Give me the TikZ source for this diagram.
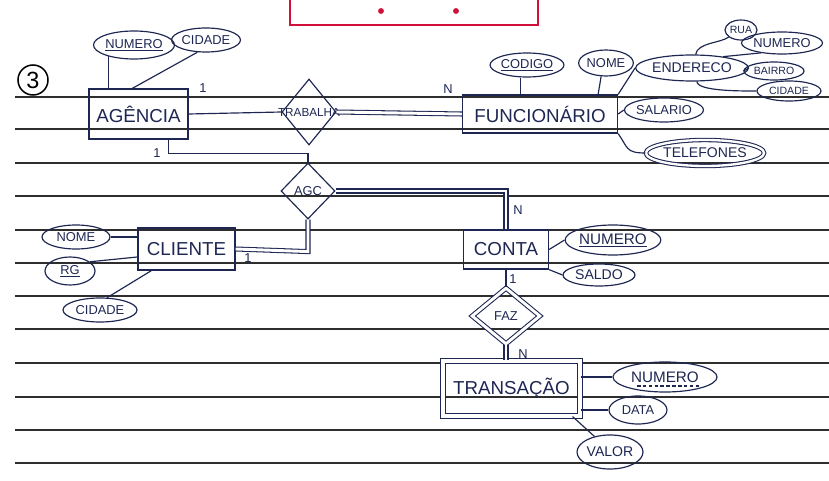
\documentclass[tikz,border=0pt]{standalone}
\usepackage{fontspec}
\setmainfont{Liberation Sans}
\usetikzlibrary{shapes.geometric,calc}
\definecolor{ink}{HTML}{1E2652}
\definecolor{ruleline}{HTML}{2E2E2E}
\definecolor{redbox}{HTML}{D0103A}
\begin{document}
\begin{tikzpicture}[x=0.03cm,y=-0.03cm,
  ent/.style 2 args={draw=ink, rectangle, line width=1.1pt, inner sep=0pt,
    minimum width=#1*0.03cm, minimum height=#2*0.03cm, text=ink,
    font=\fontsize{16}{16}\selectfont},
  att/.style 2 args={draw=ink, ellipse, line width=1pt, inner sep=0pt,
    minimum width=#1*0.03cm, minimum height=#2*0.03cm, text=ink,
    font=\fontsize{11}{11}\selectfont},
  rel/.style 2 args={draw=ink, diamond, line width=1pt, inner sep=0pt,
    minimum width=#1*0.03cm, minimum height=#2*0.03cm, text=ink,
    font=\fontsize{11}{11}\selectfont},
  conn/.style={draw=ink, line width=1pt},
  dbl/.style={draw=ink, line width=0.9pt, double=white, double distance=2.5pt},
  card/.style={text=ink, font=\fontsize{11}{11}\selectfont, inner sep=0pt},
  smallatt/.style={font=\fontsize{9}{9}\selectfont}
]
\useasboundingbox (0,0) rectangle (829,481);

% notebook ruling
\foreach \yy in {97,129,163,196,230,263,296,329,363,397,430,463}
  \draw[ruleline, line width=0.9pt] (15,\yy) -- (829,\yy);

% red box at top
\draw[redbox, line width=1.2pt] (290,-5) -- (290,25) -- (538,25) -- (538,-5);
\fill[redbox] (381,11) circle (2.5pt);
\fill[redbox] (456,11) circle (2.5pt);

% exercise number
\node[draw=black, circle, line width=1.3pt, minimum size=30*0.03cm, inner sep=0pt,
  font=\fontsize{20}{20}\selectfont] (three) at (33,80) {3};

% entities
\node[ent={99}{50}] (ag) at (138.5,114) {AGÊNCIA};
\node[ent={155}{38}] (func) at (540,114) {FUNCIONÁRIO};
\node[ent={97}{42}] (cli) at (186.5,249) {CLIENTE};
\node[ent={85}{39}] (conta) at (506,249.5) {CONTA};
\node[ent={137}{55}, line width=0.9pt, double=white, double distance=3.5pt] (trans) at (511.5,388.5) {TRANSAÇÃO};

% relationships
\node[rel={54}{66}, label={center:\textcolor{ink}{\fontsize{10}{10}\selectfont TRABALHA}}] (trab) at (309,112) {};
\node[rel={54}{56}] (agc) at (308,191) {AGC};
\node[rel={68}{56}, line width=0.9pt, double=white, double distance=2.5pt] (faz) at (506,316) {FAZ};

% attributes of AGENCIA
\node[att={76}{28}] (agnum) at (134,45) {\underline{NUMERO}};
\node[att={68}{24}] (agcid) at (206,40) {CIDADE};

% attributes of FUNCIONARIO
\node[att={44}{24}] (cod) at (527,65) {\underline{CODIGO}};
\node[att={54}{26}] (fnome) at (606,63) {NOME};
\node[att={86}{26}, font=\fontsize{12}{12}\selectfont] (end) at (692,68) {ENDERECO};
\node[att={32}{20}, smallatt] (rua) at (741,30) {RUA};
\node[att={78}{22}] (anum) at (782,43) {NUMERO};
\node[att={60}{18}, smallatt] (bai) at (774,71) {BAIRRO};
\node[att={64}{20}, smallatt] (acid) at (789,91) {CIDADE};
\node[att={68}{24}] (sal) at (664,110) {SALARIO};
\node[att={104}{26}, font=\fontsize{12}{12}\selectfont, line width=0.9pt, double=white, double distance=2pt] (tel) at (705,153) {TELEFONES};

% attributes of CLIENTE
\node[att={68}{24}] (cnome) at (76,237) {NOME};
\node[att={50}{28}] (rg) at (70,271) {\underline{RG}};
\node[att={74}{24}] (ccid) at (100,310) {CIDADE};

% attributes of CONTA
\node[att={92}{30}, font=\fontsize{13}{13}\selectfont] (cnum) at (613,240) {\underline{NUMERO}};
\node[att={72}{22}, font=\fontsize{12}{12}\selectfont] (saldo) at (599,275) {SALDO};

% attributes of TRANSACAO
\node[att={104}{30}, font=\fontsize{13}{13}\selectfont] (tnum) at (665,377) {NUMERO};
\draw[ink, line width=0.9pt, dash pattern=on 3pt off 2pt] ($(tnum.center)+(-28,9)$) -- ($(tnum.center)+(34,9)$);
\node[att={58}{28}] (data) at (638,410) {DATA};
\node[att={66}{34}, font=\fontsize{12}{12}\selectfont] (valor) at (610,452) {VALOR};

% connectors: relationships
\draw[conn] (ag.east) -- (trab.west);
\draw[dbl] (trab.east) -- (func.west);
\draw[conn] ([xshift=-0.6cm]ag.south east) -- ++(0,14) -| (agc.north);
\draw[dbl] (agc.east) -| (conta.north);
\draw[dbl] (agc.south) -- ++(0,32) -- (cli.east);
\draw[conn] (conta.south) -- (faz.north);
\draw[dbl] (faz.south) -- (faz.south |- trans.north);

% connectors: attributes
\draw[conn] ([xshift=0.6cm]ag.north west) -- ([xshift=0.6cm]ag.north west |- agnum.203);
\draw[conn] ([xshift=1.32cm]ag.north west) -- (agcid.235);
\draw[conn] ([xshift=-0.2cm]cod.south) -- ([xshift=-0.2cm]cod.south |- func.north);
\draw[conn] (fnome.250) -- ($(fnome.250 |- func.north)+(-3,0)$);
\draw[conn] (func.north east) -- (end.west);
\draw[conn] (end.75) .. controls +(2,-12) and +(-8,6) .. (rua.210);
\draw[conn] (end.20) -- (anum.205);
\draw[conn] (end.east) -- (bai.west);
\draw[conn] (end.-70) .. controls +(0,10) and +(-12,0) .. (acid.west);
\draw[conn] (func.east) -- (sal.west);
\draw[conn] (func.south east) .. controls +(10,14) and +(-20,0) .. (tel.west);
\draw[conn] (cnome.east) -- (cli.west |- cnome.east);
\draw[conn] (rg.25) -- ($(cli.west)+(0,8)$);
\draw[conn] ($(cli.south west)+(14,0)$) -- (ccid.60);
\draw[conn] (conta.east) -- (cnum.west);
\draw[conn] (conta.south east) -- (saldo.west);
\draw[conn] (trans.east |- tnum.west) -- (tnum.west);
\draw[conn] (trans.east |- data.west) -- (data.west);
\draw[conn] ($(trans.south east)+(-8,0)$) -- (valor.135);

% cardinalities
\node[card] (c1) at (203,88) {1};
\node[card] (c2) at (448,89) {N};
\node[card] (c3) at (157,153) {1};
\node[card] (c4) at (518,210) {N};
\node[card] (c5) at (248,258) {1};
\node[card] (c6) at (513,279) {1};
\node[card] (c7) at (523,354) {N};
\end{tikzpicture}
\end{document}
